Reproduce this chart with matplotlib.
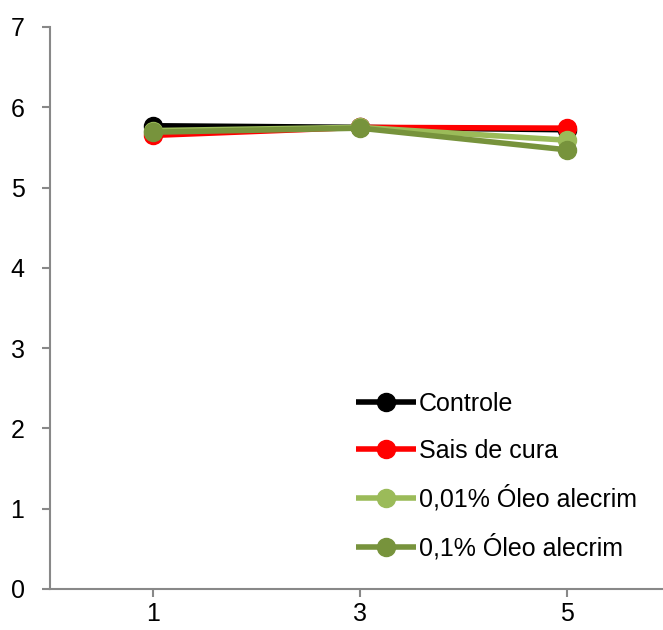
import matplotlib
matplotlib.use("Agg")
import matplotlib.pyplot as plt

days = [1, 3, 5]
controle = [5.77, 5.75, 5.72]
sais = [5.65, 5.75, 5.74]
oleo001 = [5.71, 5.75, 5.59]
oleo01 = [5.69, 5.74, 5.47]
labels = ["Controle", "Sais de cura", "0,01% Óleo alecrim", "0,1% Óleo alecrim"]
colors = ["#000000", "#FF0000", "#9BBB59", "#77933C"]

plt.rcParams['font.family'] = ['Liberation Sans', 'DejaVu Sans']

fig = plt.figure(figsize=(6.63, 6.30), dpi=100)
ax = fig.add_axes([49.5/663, 41/630, 621/663, 562/630])

for ys, lab, c in zip([controle, sais, oleo001, oleo01], labels, colors):
    ax.plot(days, ys, color=c, lw=4, marker='o', markersize=13, label=lab,
            solid_capstyle='butt')

ax.set_xlim(0, 6)
ax.set_ylim(0, 7)
ax.set_xticks(days)
ax.set_xticklabels([str(d) for d in days])
ax.set_yticks(range(0, 8))
for s in ['top', 'right']:
    ax.spines[s].set_visible(False)
for s in ['left', 'bottom']:
    ax.spines[s].set_color('#888888')
    ax.spines[s].set_linewidth(1.5)
ax.tick_params(axis='both', colors='#888888', labelcolor='black', labelsize=18,
               length=6, width=1.5)
ax.tick_params(axis='y', pad=12)
ax.tick_params(axis='x', pad=3.5)

leg = ax.legend(loc='upper left', bbox_to_anchor=(0.478, 0.368), frameon=False,
                fontsize=18, handlelength=2.4, handletextpad=0.1,
                labelspacing=0.9, borderaxespad=0, markerscale=1.0)

fig.savefig("out.png", dpi=100)
